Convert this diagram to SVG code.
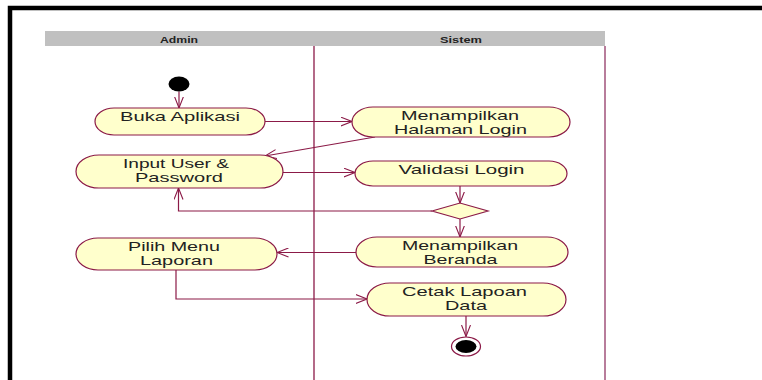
<svg xmlns="http://www.w3.org/2000/svg" width="762" height="380" viewBox="0 0 762 380">
<style>
.node{fill:#FFFFCC;stroke:#8B1A47;stroke-width:1.2}
.lbl{font-family:"Liberation Sans",Arial,sans-serif;font-size:12.4px;fill:#222;text-anchor:middle}
.hdr{font-family:"Liberation Sans",Arial,sans-serif;font-size:8.5px;font-weight:bold;fill:#222;text-anchor:middle}
.conn{fill:none;stroke:#8B1A47;stroke-width:1.2}
</style>
<defs>
<marker id="arr" viewBox="0 0 12 10" refX="11.5" refY="5" markerWidth="12" markerHeight="10" markerUnits="userSpaceOnUse" orient="auto">
<path d="M0,0.5 L11.5,5 L0,9.5" fill="none" stroke="#8B1A47" stroke-width="1.1"/>
</marker>
</defs>
<rect x="0" y="0" width="762" height="380" fill="#fff"/>
<path d="M10,380 V8 H762" fill="none" stroke="#000" stroke-width="4.5"/>
<g id="lanes">
<rect x="45" y="31" width="560" height="15" fill="#C0C0C0"/>
<text class="hdr" x="179" y="42.5" textLength="38" lengthAdjust="spacingAndGlyphs">Admin</text>
<text class="hdr" x="461" y="42.5" textLength="42" lengthAdjust="spacingAndGlyphs">Sistem</text>
<line x1="314" y1="46" x2="314" y2="380" stroke="#8B1A47" stroke-width="1.3"/>
<line x1="605" y1="46" x2="605" y2="380" stroke="#A0527A" stroke-width="1.5"/>
</g>
<g id="connectors">
<path class="conn" d="M179,91.5 V108" marker-end="url(#arr)"/>
<path class="conn" d="M265,121.5 H352" marker-end="url(#arr)"/>
<path class="conn" d="M375,137 L265,156" marker-end="url(#arr)"/>
<path class="conn" d="M283,172.5 H355" marker-end="url(#arr)"/>
<path class="conn" d="M460,186 V203" marker-end="url(#arr)"/>
<path class="conn" d="M432,211 H178.5 V188" marker-end="url(#arr)"/>
<path class="conn" d="M460,219 V237" marker-end="url(#arr)"/>
<path class="conn" d="M356,252.5 H277" marker-end="url(#arr)"/>
<path class="conn" d="M176,270 V299 H367" marker-end="url(#arr)"/>
<path class="conn" d="M466,316 V336.5" marker-end="url(#arr)"/>
</g>
<g id="start"><ellipse cx="179" cy="84" rx="10.5" ry="7.5" fill="#000"/></g>
<g id="buka">
<rect class="node" x="95" y="108" width="170" height="27" rx="19" ry="13.5"/>
<text class="lbl" x="180" y="121" textLength="120" lengthAdjust="spacingAndGlyphs">Buka Aplikasi</text>
</g>
<g id="halaman">
<rect class="node" x="352" y="107" width="218" height="30" rx="21" ry="15"/>
<text class="lbl" x="460" y="119.5" textLength="118" lengthAdjust="spacingAndGlyphs">Menampilkan</text>
<text class="lbl" x="460.5" y="133.5" textLength="133" lengthAdjust="spacingAndGlyphs">Halaman Login</text>
</g>
<g id="input">
<rect class="node" x="76" y="155" width="207" height="33" rx="23" ry="16.5"/>
<text class="lbl" x="176" y="168" textLength="106" lengthAdjust="spacingAndGlyphs">Input User &amp;</text>
<text class="lbl" x="179" y="182" textLength="88" lengthAdjust="spacingAndGlyphs">Password</text>
</g>
<g id="validasi">
<rect class="node" x="355" y="161" width="212" height="25" rx="18" ry="12.5"/>
<text class="lbl" x="461.5" y="174" textLength="126" lengthAdjust="spacingAndGlyphs">Validasi Login</text>
</g>
<g id="decision">
<polygon class="node" points="432,211 460,203 488,211 460,219"/>
</g>
<g id="beranda">
<rect class="node" x="356" y="237" width="212" height="30" rx="21" ry="15"/>
<text class="lbl" x="460" y="250" textLength="116" lengthAdjust="spacingAndGlyphs">Menampilkan</text>
<text class="lbl" x="460.5" y="264" textLength="74" lengthAdjust="spacingAndGlyphs">Beranda</text>
</g>
<g id="pilih">
<rect class="node" x="76" y="238" width="201" height="32" rx="22" ry="16"/>
<text class="lbl" x="174" y="250.5" textLength="92" lengthAdjust="spacingAndGlyphs">Pilih Menu</text>
<text class="lbl" x="176.5" y="264.5" textLength="73" lengthAdjust="spacingAndGlyphs">Laporan</text>
</g>
<g id="cetak">
<rect class="node" x="367" y="283" width="199" height="33" rx="23" ry="16.5"/>
<text class="lbl" x="464.5" y="296" textLength="125" lengthAdjust="spacingAndGlyphs">Cetak Lapoan</text>
<text class="lbl" x="466" y="310" textLength="42" lengthAdjust="spacingAndGlyphs">Data</text>
</g>
<g id="end">
<ellipse cx="466" cy="346.5" rx="14.5" ry="9.5" fill="#fff" stroke="#8B1A47" stroke-width="1.2"/>
<ellipse cx="466" cy="346.5" rx="10.5" ry="6.5" fill="#000"/>
</g>
</svg>
